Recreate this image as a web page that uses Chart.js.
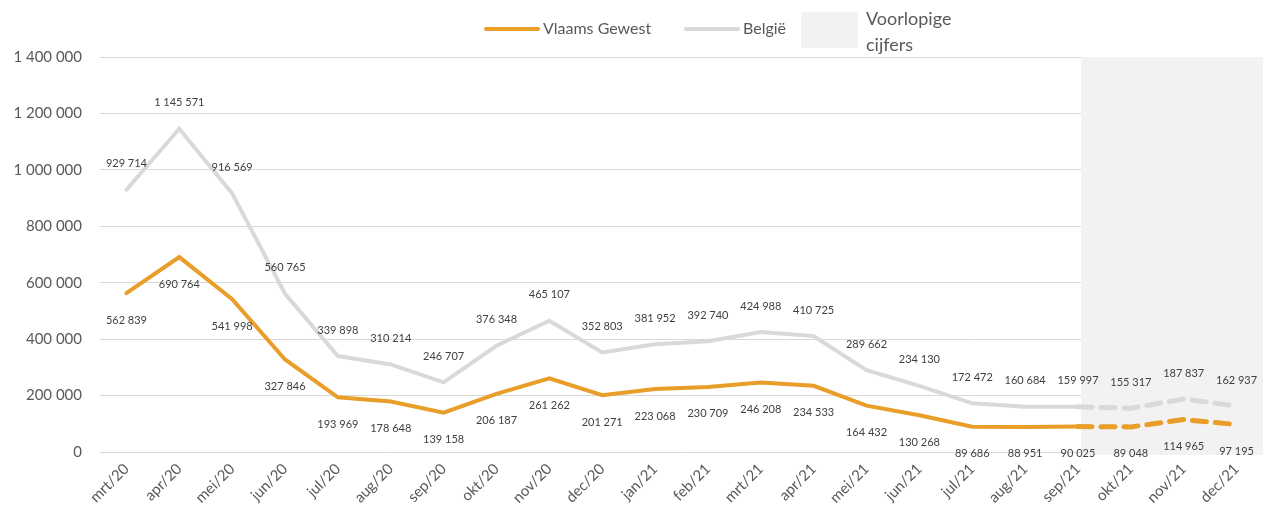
<!DOCTYPE html>
<html>
<head>
<meta charset="utf-8">
<script src="https://cdn.jsdelivr.net/npm/chart.js@4/dist/chart.umd.min.js"></script>
<style>
  body { margin: 0; background: #fff; font-family: Lato, "Open Sans", sans-serif; }
  #wrap { position: relative; width: 1265px; height: 520px; }
  #legend { position: absolute; top: 0; left: 0; width: 1265px; height: 56px; color: #595959; }
  .ln { position: absolute; height: 4px; border-radius: 2px; top: 27px; }
  .lt { position: absolute; font-size: 16px; top: 18px; }
</style>
</head>
<body>
<div id="wrap">
  <canvas id="chart" width="1265" height="520"></canvas>
  <div id="legend">
    <div class="ln" style="left:484px;width:56px;background:#E89E28"></div>
    <div class="lt" style="left:543px">Vlaams Gewest</div>
    <div class="ln" style="left:684px;width:56px;background:#D9D9D9"></div>
    <div class="lt" style="left:743px">België</div>
    <div style="position:absolute;left:801px;top:12px;width:57px;height:36px;background:#F2F2F2"></div>
    <div style="position:absolute;left:866px;top:5px;font-size:18px;line-height:26px">Voorlopige<br>cijfers</div>
  </div>
</div>
<script>
// maanden
const labels = ['mrt/20', 'apr/20', 'mei/20', 'jun/20', 'jul/20', 'aug/20', 'sep/20', 'okt/20', 'nov/20', 'dec/20',
  'jan/21', 'feb/21', 'mrt/21', 'apr/21', 'mei/21', 'jun/21', 'jul/21', 'aug/21', 'sep/21', 'okt/21', 'nov/21', 'dec/21'];
const vlaams = [562839, 690764, 541998, 327846, 193969, 178648, 139158, 206187, 261262, 201271,
  223068, 230709, 246208, 234533, 164432, 130268, 89686, 88951, 90025, 89048, 114965, 97195];
const belgie = [929714, 1145571, 916569, 560765, 339898, 310214, 246707, 376348, 465107, 352803,
  381952, 392740, 424988, 410725, 289662, 234130, 172472, 160684, 159997, 155317, 187837, 162937];
const firstProvisional = 18; // vanaf sep/21 voorlopig

const fmt = v => String(v).replace(/\B(?=(\d{3})+(?!\d))/g, ' ');

// grijze zone voor voorlopige cijfers
const shade = {
  id: 'shade',
  beforeDatasetsDraw(chart) {
    const { ctx, chartArea, scales } = chart;
    const x0 = scales.x.getPixelForValue(firstProvisional) + 3;
    ctx.save();
    ctx.fillStyle = '#F2F2F2';
    ctx.fillRect(x0, chartArea.top, chartArea.right - x0, chartArea.bottom - chartArea.top + 3);
    ctx.restore();
  }
};

// datalabels: België boven, Vlaams onder
const valueLabels = {
  id: 'valueLabels',
  afterDatasetsDraw(chart) {
    const { ctx } = chart;
    ctx.save();
    ctx.font = '11px Lato, "Open Sans", sans-serif';
    ctx.fillStyle = '#404040';
    ctx.textAlign = 'center';
    ctx.textBaseline = 'middle';
    chart.data.datasets.forEach((ds, i) => {
      const meta = chart.getDatasetMeta(i);
      const dy = i === 0 ? 27 : -26;
      meta.data.forEach((pt, j) => {
        ctx.fillText(fmt(ds.data[j]), pt.x, pt.y + dy);
      });
    });
    ctx.restore();
  }
};

const dashAfter = ctx => ctx.p0DataIndex >= firstProvisional ? [14, 9] : undefined;
const widthAfter = ctx => ctx.p0DataIndex >= firstProvisional ? 5 : undefined;

new Chart(document.getElementById('chart'), {
  type: 'line',
  data: {
    labels: labels,
    datasets: [{
      label: 'Vlaams Gewest',
      data: vlaams,
      borderColor: '#E89E28',
      borderWidth: 4,
      pointRadius: 0,
      borderCapStyle: 'round',
      segment: { borderDash: dashAfter, borderWidth: widthAfter }
    }, {
      label: 'België',
      data: belgie,
      borderColor: '#D9D9D9',
      borderWidth: 4,
      pointRadius: 0,
      borderCapStyle: 'round',
      segment: { borderDash: dashAfter, borderWidth: widthAfter }
    }]
  },
  options: {
    responsive: false,
    animation: false,
    layout: { padding: { top: 57, right: 2, left: 0 } },
    plugins: {
      legend: { display: false },
      tooltip: { enabled: false }
    },
    scales: {
      x: {
        offset: true,
        grid: { display: false },
        border: { display: false },
        ticks: {
          color: '#595959',
          font: { size: 15, family: 'Lato, "Open Sans", sans-serif' },
          maxRotation: 45,
          minRotation: 45,
          padding: 0
        },
        afterFit(scale) { scale.height = 68; }
      },
      y: {
        min: 0,
        max: 1400000,
        ticks: {
          stepSize: 200000,
          color: '#595959',
          padding: 18,
          font: { size: 15, family: 'Lato, "Open Sans", sans-serif' },
          callback: v => fmt(v)
        },
        grid: { color: '#D9D9D9', lineWidth: 1, drawTicks: false },
        border: { display: false },
        afterFit(scale) { scale.width = 100; }
      }
    }
  },
  plugins: [shade, valueLabels]
});
</script>
</body>
</html>
